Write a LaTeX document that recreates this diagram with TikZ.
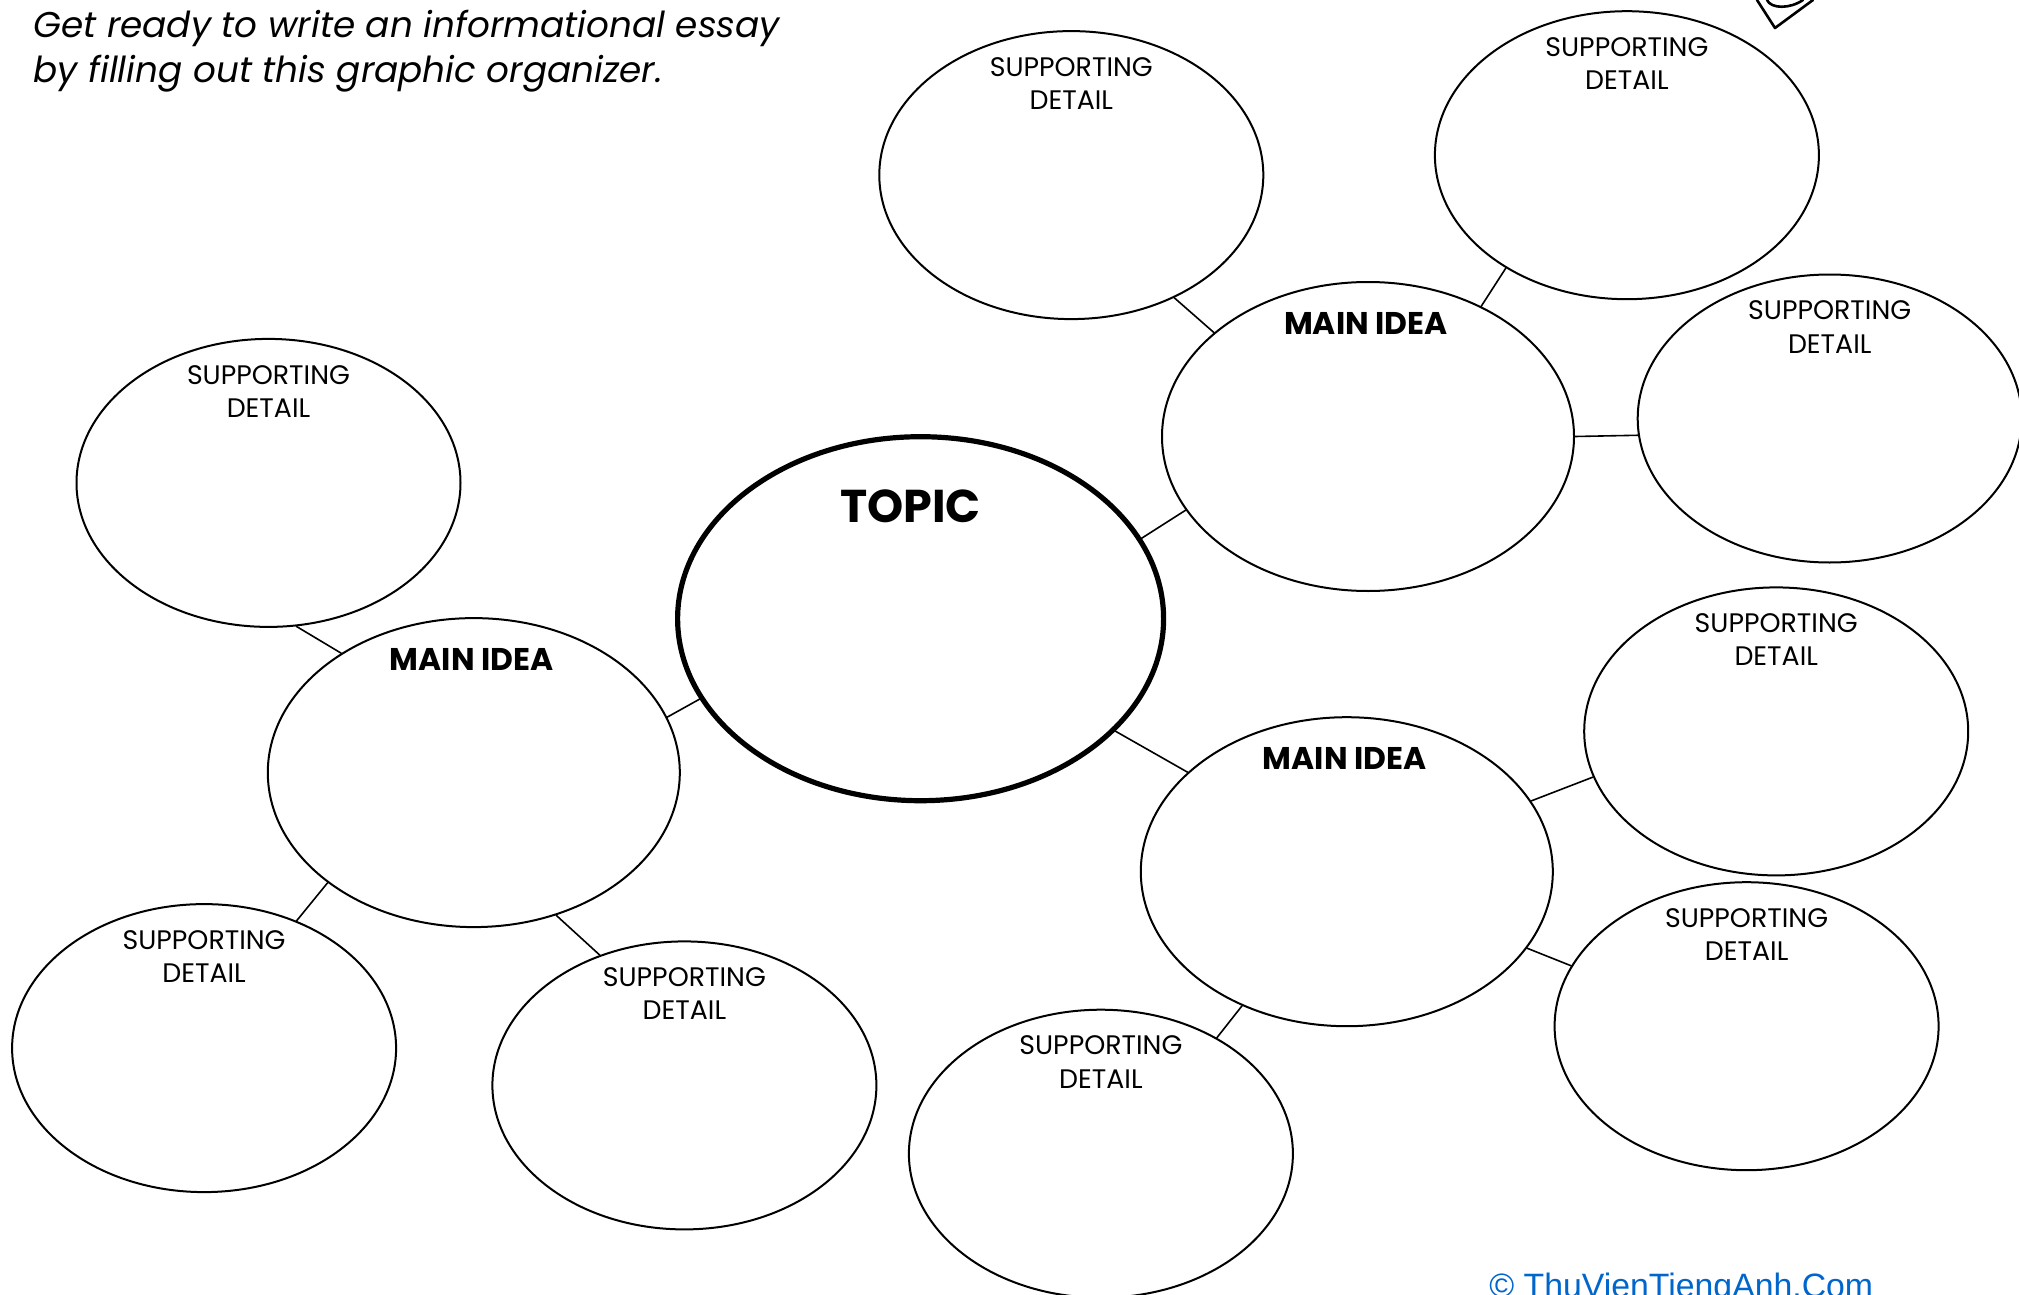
\documentclass[tikz,border=0pt]{standalone}
\usepackage{fontspec}
\setmainfont{Poppins}
\setsansfont{Liberation Sans}
\usetikzlibrary{shapes.geometric}
\definecolor{tvblue}{RGB}{0,102,204}

\begin{document}
\begin{tikzpicture}[x=0.5pt, y=-0.5pt, line join=round, line cap=round,
	detail/.style={ellipse, draw, line width=1pt, minimum width=192pt, minimum height=144pt, inner sep=0pt},
	mainidea/.style={ellipse, draw, line width=1pt, minimum width=206pt, minimum height=154.5pt, inner sep=0pt},
	topic/.style={ellipse, draw, line width=2.6pt, minimum width=243pt, minimum height=182pt, inner sep=0pt},
	dtext/.style={anchor=north, align=center, inner sep=0pt, font=\fontsize{13.4}{16.7}\selectfont},
	mtext/.style={anchor=north, inner sep=0pt, font=\fontsize{15.7}{18}\selectfont\bfseries},
	link/.style={line width=0.8pt}]
	\useasboundingbox (0,0) rectangle (2019,1295);
	\clip (0,0) rectangle (2019,1295);
	\node[anchor=north west, align=left, inner sep=0pt, font=\fontsize{17.9}{22.5}\selectfont\itshape] (head) at (33,10)
		{Get ready to write an informational essay\\by filling out this graphic organizer.};
	\node[topic] (T) at (920.6,618.7) {};
	\node[anchor=north, inner sep=0pt, font=\fontsize{23}{28}\selectfont\bfseries] (TT) at ([xshift=-5pt,yshift=-27.4pt]T.north) {TOPIC};
	\node[mainidea] (M1) at (1368,436.5) {};
	\node[mainidea] (M2) at (473.8,772.6) {};
	\node[mainidea] (M3) at (1346.8,871.7) {};
	\foreach \n in {1,2,3}
		\node[mtext] (MT\n) at ([xshift=-1pt,yshift=-15.3pt]M\n.north) {MAIN IDEA};
	\foreach \n/\x/\y in {1/1071.3/175.1, 2/1626.9/155.2, 3/1829.7/418.5, 4/268.5/482.9, 5/204.1/1048.1,
		6/684.4/1085.4, 7/1776.2/731.4, 8/1746.6/1026.2, 9/1100.9/1153.7}{
		\node[detail] (S\n) at (\x,\y) {};
		\node[dtext] (L\n) at ([yshift=-13.4pt]S\n.north) {SUPPORTING\\DETAIL};
	}
	\foreach \a/\b in {T.20.9/M1.202.8, M1.146.7/S1.310.1, M1.49.7/S2.223.4, M1.east/S3.185.4,
		T.200.7/M2.16.6, M2.138.8/S4.281.7, M2.217.5/S5.54.9, M2.300.6/S6.123.2,
		T.330.2/M3.148.2, M3.21.2/S7.194.4, M3.337.8/S8.161.25, M3.232.5/S9.45}
		\draw[link] (\a) -- (\b);
	% pencil tip cut by the top edge
	\draw[line width=1.3pt] (1757,0) -- (1775,28) -- (1813,0);
	\draw[line width=1.3pt] (1767,0) .. controls (1771,9) and (1790,9) .. (1803,0);
	\node[anchor=base west, inner sep=0pt, text=tvblue, font=\sffamily\fontsize{16.9}{20}\selectfont] (copy) at (1489,1297)
		{© ThuVienTiengAnh.Com};
\end{tikzpicture}
\end{document}
